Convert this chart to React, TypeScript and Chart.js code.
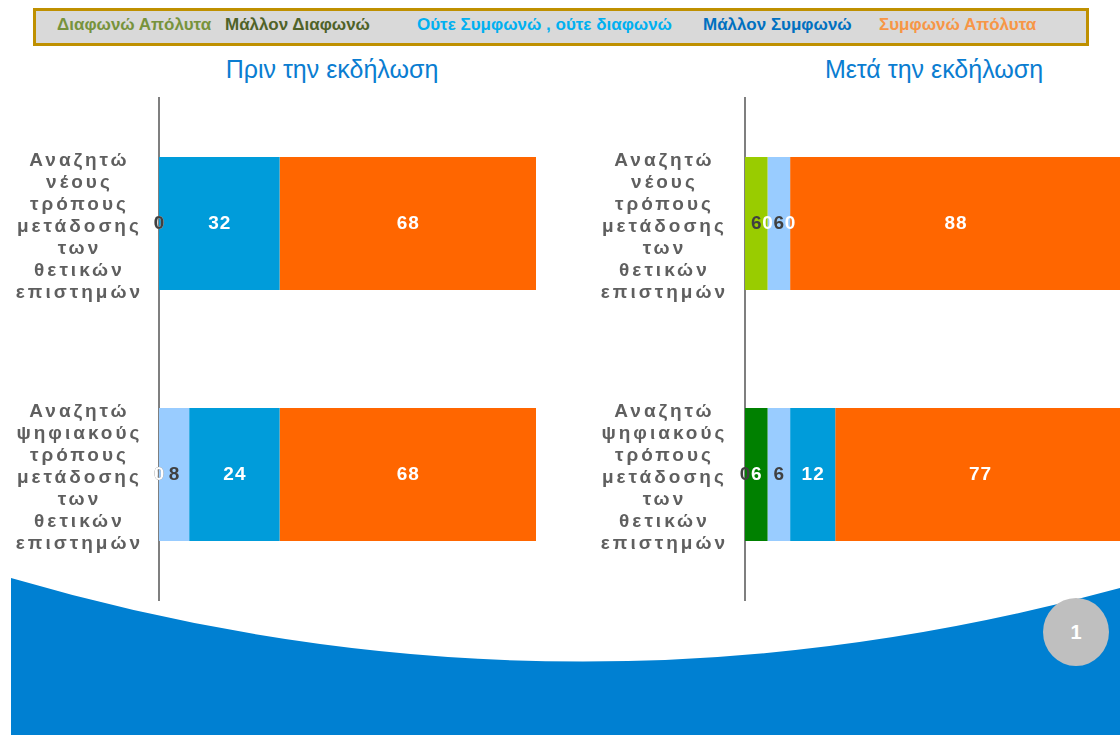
import React, { useEffect, useRef } from "react";
import { Chart, registerables } from "chart.js";

Chart.register(...registerables);

const FONT = "'Liberation Sans', Arial, Helvetica, sans-serif";

// ---- data ----
const categories = [
  ["Αναζητώ", "νέους", "τρόπους", "μετάδοσης", "των", "θετικών", "επιστημών"],
  ["Αναζητώ", "ψηφιακούς", "τρόπους", "μετάδοσης", "των", "θετικών", "επιστημών"],
];

const seriesNames = [
  "Διαφωνώ Απόλυτα",
  "Μάλλον Διαφωνώ",
  "Ούτε Συμφωνώ , ούτε διαφωνώ",
  "Μάλλον Συμφωνώ",
  "Συμφωνώ Απόλυτα",
];

const panelTitles = ["Πριν την εκδήλωση", "Μετά την εκδήλωση"];

// Before the event
const disagreeFullyBefore = [0, 0];
const disagreeSomewhatBefore = [0, 0];
const neutralBefore = [0, 8];
const agreeSomewhatBefore = [32, 24];
const agreeFullyBefore = [68, 68];

// After the event
const disagreeFullyAfter = [6, 0];
const disagreeSomewhatAfter = [0, 6];
const neutralAfter = [6, 6];
const agreeSomewhatAfter = [0, 12];
const agreeFullyAfter = [88, 77];

const axisMax = 100;

// ---- styles ----
const legendTextColors = ["#77933C", "#4F6228", "#00B0F0", "#0070C0", "#F79646"];
const legendTextX = [57, 225, 417, 703, 879];
const barColors = ["#99CC00", "#008000", "#99CCFF", "#009CDA", "#FF6600"];
const valueLabelColors = ["#404040", "#FFFFFF", "#404040", "#FFFFFF", "#FFFFFF"];

const TICK_SPACING = "3px";

const spacingPlugin = {
  id: "letterSpacingPlugin",
  beforeUpdate(chart: any) {
    chart.ctx.letterSpacing = TICK_SPACING;
  },
  beforeDraw(chart: any) {
    chart.ctx.letterSpacing = TICK_SPACING;
  },
};

const valueLabelPlugin = {
  id: "valueLabels",
  afterDatasetsDraw(chart: any) {
    const ctx = chart.ctx;
    ctx.save();
    ctx.letterSpacing = "1px";
    ctx.font = `bold 19px ${FONT}`;
    ctx.textAlign = "center";
    ctx.textBaseline = "middle";
    chart.data.datasets.forEach((ds: any, i: number) => {
      const meta = chart.getDatasetMeta(i);
      meta.data.forEach((el: any, j: number) => {
        const p = el.getProps(["x", "base", "y"], true);
        ctx.fillStyle = valueLabelColors[i];
        ctx.fillText(String(ds.data[j]), (p.x + p.base) / 2 + 0.5, p.y);
      });
    });
    ctx.restore();
  },
};

function Panel(props: {
  left: number;
  width: number;
  axisWidth: number;
  tickPadding: number;
  series: number[][];
}) {
  const ref = useRef<HTMLCanvasElement>(null);
  useEffect(() => {
    const chart = new Chart(ref.current as HTMLCanvasElement, {
      type: "bar",
      data: {
        labels: categories as any,
        datasets: props.series.map((d, i) => ({
          label: seriesNames[i],
          data: d,
          backgroundColor: barColors[i],
          borderWidth: 0,
          categoryPercentage: 1,
          barPercentage: 0.53,
        })),
      },
      options: {
        indexAxis: "y",
        responsive: false,
        maintainAspectRatio: false,
        animation: false,
        events: [],
        layout: { padding: { top: 8, bottom: 5, left: 0, right: 4 } },
        plugins: {
          legend: { display: false },
          tooltip: { enabled: false },
          title: { display: false },
        },
        scales: {
          x: { stacked: true, min: 0, max: axisMax, display: false },
          y: {
            stacked: true,
            grid: { display: false, drawTicks: false },
            border: { display: true, color: "#7F7F7F", width: 2 },
            ticks: {
              color: "#5F5F5F",
              crossAlign: "center",
              padding: props.tickPadding,
              labelOffset: 3,
              font: { family: FONT, size: 19, weight: "bold", lineHeight: 1.16 },
            },
            afterFit: (s: any) => {
              s.width = props.axisWidth;
              s.paddingTop = 0;
              s.paddingBottom = 0;
            },
          },
        },
      } as any,
      plugins: [spacingPlugin, valueLabelPlugin],
    });
    return () => chart.destroy();
  }, []);
  return (
    <canvas
      ref={ref}
      width={props.width}
      height={515}
      style={{ position: "absolute", left: props.left, top: 90, width: props.width, height: 515 }}
    />
  );
}

export default function App() {
  return (
    <div
      style={{
        position: "absolute",
        left: 0,
        top: 0,
        width: 1120,
        height: 735,
        overflow: "hidden",
        background: "#FFFFFF",
        fontFamily: FONT,
      }}
    >
      <svg
        width={1120}
        height={735}
        style={{ position: "absolute", left: 0, top: 0 }}
      >
        <path d="M11,578 Q565,740 1120,588 L1120,735 L11,735 Z" fill="#0080D2" />
        <ellipse cx={1076} cy={632} rx={33} ry={34} fill="#BFBFBF" />
        <text
          x={1076}
          y={639}
          textAnchor="middle"
          fill="#FFFFFF"
          fontSize={20}
          fontWeight="bold"
          fontFamily={FONT}
        >
          1
        </text>
      </svg>

      <div
        style={{
          position: "absolute",
          left: 33,
          top: 8,
          width: 1056,
          height: 38,
          boxSizing: "border-box",
          border: "3px solid #BF9000",
          background: "#D9D9D9",
        }}
      />
      {seriesNames.map((n, i) => (
        <div
          key={n}
          style={{
            position: "absolute",
            left: legendTextX[i],
            top: 15,
            fontSize: 17,
            fontWeight: "bold",
            color: legendTextColors[i],
            whiteSpace: "nowrap",
            lineHeight: "20px",
          }}
        >
          {n}
        </div>
      ))}

      {panelTitles.map((t, i) => (
        <div
          key={t}
          style={{
            position: "absolute",
            left: (i === 0 ? 332 : 934) - 200,
            width: 400,
            top: 55,
            textAlign: "center",
            fontSize: 25,
            color: "#0A7DD1",
            whiteSpace: "nowrap",
            lineHeight: "28px",
          }}
        >
          {t}
        </div>
      ))}

      <Panel
        left={0}
        width={540}
        axisWidth={159}
        tickPadding={16}
        series={[disagreeFullyBefore, disagreeSomewhatBefore, neutralBefore, agreeSomewhatBefore, agreeFullyBefore]}
      />
      <Panel
        left={580}
        width={545}
        axisWidth={165}
        tickPadding={17}
        series={[disagreeFullyAfter, disagreeSomewhatAfter, neutralAfter, agreeSomewhatAfter, agreeFullyAfter]}
      />
    </div>
  );
}
